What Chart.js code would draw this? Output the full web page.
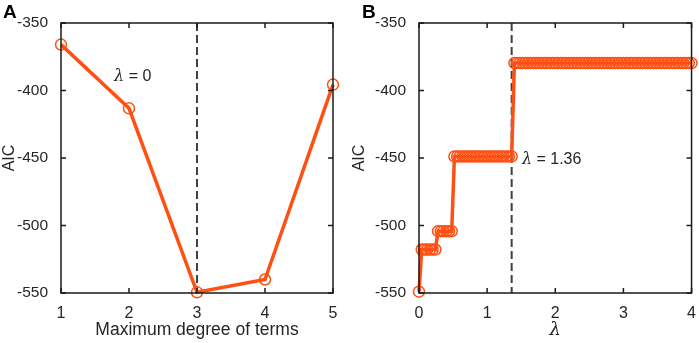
<!DOCTYPE html>
<html>
<head>
<meta charset="utf-8">
<script src="https://cdn.jsdelivr.net/npm/chart.js@4.4.0/dist/chart.umd.min.js"></script>
<style>
  html, body { margin: 0; padding: 0; background: #fff; }
  #wrap { position: relative; width: 699px; height: 343px; }
  .panel { position: absolute; top: 0; height: 343px; }
  #boxA { left: 0; width: 350px; }
  #boxB { left: 350px; width: 349px; }
</style>
</head>
<body>
<div id="wrap">
  <div class="panel" id="boxA"><canvas id="chartA"></canvas></div>
  <div class="panel" id="boxB"><canvas id="chartB"></canvas></div>
</div>
<script>
// panel A: AIC vs maximum degree of terms (lambda = 0)
const degrees = [1, 2, 3, 4, 5];
const aicA = [-366, -413.2, -549.5, -540, -395.6];

// panel B: AIC vs lambda (degree 3)
const lambdas = [
  0, 0.04, 0.08, 0.12, 0.16, 0.2, 0.24, 0.28, 0.32, 0.36, 0.4, 0.44, 0.48, 0.52, 0.56, 0.6, 0.64, 0.68, 0.72, 0.76,
  0.8, 0.84, 0.88, 0.92, 0.96, 1, 1.04, 1.08, 1.12, 1.16, 1.2, 1.24, 1.28, 1.32, 1.36, 1.4, 1.44, 1.48, 1.52, 1.56,
  1.6, 1.64, 1.68, 1.72, 1.76, 1.8, 1.84, 1.88, 1.92, 1.96, 2, 2.04, 2.08, 2.12, 2.16, 2.2, 2.24, 2.28, 2.32, 2.36,
  2.4, 2.44, 2.48, 2.52, 2.56, 2.6, 2.64, 2.68, 2.72, 2.76, 2.8, 2.84, 2.88, 2.92, 2.96, 3, 3.04, 3.08, 3.12, 3.16,
  3.2, 3.24, 3.28, 3.32, 3.36, 3.4, 3.44, 3.48, 3.52, 3.56, 3.6, 3.64, 3.68, 3.72, 3.76, 3.8, 3.84, 3.88, 3.92, 3.96, 4
];
const aicB = [
  -549, -517.8, -517.8, -517.8, -517.8, -517.8, -517.8, -504.2, -504.2, -504.2, -504.2, -504.2, -504.2,
  -448.8, -448.8, -448.8, -448.8, -448.8, -448.8, -448.8, -448.8, -448.8, -448.8, -448.8,
  -448.8, -448.8, -448.8, -448.8, -448.8, -448.8, -448.8, -448.8, -448.8, -448.8, -448.8,
  -379.7, -379.7, -379.7, -379.7, -379.7, -379.7, -379.7, -379.7, -379.7, -379.7, -379.7,
  -379.7, -379.7, -379.7, -379.7, -379.7, -379.7, -379.7, -379.7, -379.7, -379.7, -379.7,
  -379.7, -379.7, -379.7, -379.7, -379.7, -379.7, -379.7, -379.7, -379.7, -379.7, -379.7,
  -379.7, -379.7, -379.7, -379.7, -379.7, -379.7, -379.7, -379.7, -379.7, -379.7, -379.7,
  -379.7, -379.7, -379.7, -379.7, -379.7, -379.7, -379.7, -379.7, -379.7, -379.7, -379.7,
  -379.7, -379.7, -379.7, -379.7, -379.7, -379.7, -379.7, -379.7, -379.7, -379.7, -379.7
];

const yTicks = [-550, -500, -450, -400, -350];
const bestDegree = 3;
const bestLambda = 1.36;

const lineColor = "#ff5014";
const textColor = "#262626";
const fontFamily = "'Liberation Sans', Arial, sans-serif";

Chart.defaults.font.family = fontFamily;
Chart.defaults.color = textColor;

// box + inward ticks, dashed marker line, panel letter and note
const matlabAxes = {
  id: "matlabAxes",
  beforeDatasetsDraw(chart, args, opts) {
    const { ctx, chartArea: a, scales } = chart;
    const x = scales.x.getPixelForValue(opts.vline);
    ctx.save();
    ctx.strokeStyle = "#404040";
    ctx.lineWidth = 2;
    ctx.setLineDash([8, 4]);
    ctx.beginPath();
    ctx.moveTo(x, a.top);
    ctx.lineTo(x, a.bottom);
    ctx.stroke();
    ctx.restore();
  },
  afterDraw(chart, args, opts) {
    const { ctx, chartArea: a, scales } = chart;
    ctx.save();
    ctx.strokeStyle = "#1a1a1a";
    ctx.lineWidth = 1.5;
    ctx.strokeRect(a.left, a.top, a.right - a.left, a.bottom - a.top);
    const len = 5;
    ctx.beginPath();
    scales.x.ticks.forEach(t => {
      const px = scales.x.getPixelForValue(t.value);
      ctx.moveTo(px, a.bottom); ctx.lineTo(px, a.bottom - len);
      ctx.moveTo(px, a.top); ctx.lineTo(px, a.top + len);
    });
    scales.y.ticks.forEach(t => {
      const py = scales.y.getPixelForValue(t.value);
      ctx.moveTo(a.left, py); ctx.lineTo(a.left + len, py);
      ctx.moveTo(a.right, py); ctx.lineTo(a.right - len, py);
    });
    ctx.stroke();

    ctx.fillStyle = "#000";
    ctx.font = "bold 19px " + fontFamily;
    ctx.textBaseline = "top";
    ctx.fillText(opts.letter, opts.letterX, 3);

    // note with italic lambda
    const nx = scales.x.getPixelForValue(opts.noteX);
    const ny = scales.y.getPixelForValue(opts.noteY);
    ctx.fillStyle = textColor;
    ctx.textBaseline = "middle";
    ctx.font = "italic 16px 'DejaVu Serif', serif";
    ctx.fillText("λ", nx, ny);
    const w = ctx.measureText("λ").width;
    ctx.font = "16px " + fontFamily;
    ctx.fillText(opts.noteText, nx + w, ny);
    ctx.restore();
  }
};

function makeChart(id, xs, ys, cfg) {
  return new Chart(document.getElementById(id), {
    type: "line",
    data: {
      datasets: [{
        data: xs.map((x, i) => ({ x: x, y: ys[i] })),
        borderColor: lineColor,
        borderWidth: 3.5,
        pointStyle: "circle",
        pointRadius: 5.5,
        pointBorderWidth: 1.5,
        pointBorderColor: lineColor,
        pointBackgroundColor: "rgba(255,255,255,0)",
        tension: 0,
        clip: false
      }]
    },
    options: {
      responsive: true,
      maintainAspectRatio: false,
      animation: false,
      layout: { padding: { top: 23, right: cfg.padRight, left: 0, bottom: 0 } },
      plugins: {
        legend: { display: false },
        tooltip: { enabled: false },
        matlabAxes: cfg.extras
      },
      scales: {
        x: {
          type: "linear",
          min: cfg.xMin,
          max: cfg.xMax,
          grid: { display: false },
          border: { display: false },
          ticks: { stepSize: 1, font: { size: 16 }, color: textColor, padding: 3 },
          title: {
            display: true,
            text: cfg.xTitle,
            font: cfg.xTitleFont,
            color: textColor,
            padding: { top: 0, bottom: 2 }
          },
          afterFit(scale) { scale.height = 50; }
        },
        y: {
          type: "linear",
          min: -550,
          max: -350,
          grid: { display: false },
          border: { display: false },
          afterBuildTicks(scale) { scale.ticks = yTicks.map(v => ({ value: v })); },
          ticks: { font: { size: 15.5 }, color: textColor, padding: 5 },
          title: {
            display: true,
            text: "AIC",
            font: { size: 16 },
            color: textColor,
            padding: { top: 0, bottom: 0 }
          },
          afterFit(scale) { scale.width = cfg.yWidth; }
        }
      }
    },
    plugins: [matlabAxes]
  });
}

makeChart("chartA", degrees, aicA, {
  xMin: 1, xMax: 5, padRight: 17, yWidth: 61,
  xTitle: "Maximum degree of terms",
  xTitleFont: { size: 17.5 },
  extras: { vline: bestDegree, letter: "A", letterX: 3, noteX: 1.78, noteY: -390, noteText: " = 0" }
});

makeChart("chartB", lambdas, aicB, {
  xMin: 0, xMax: 4, padRight: 7, yWidth: 69,
  xTitle: "λ",
  xTitleFont: { size: 18, style: "italic", family: "'DejaVu Serif', serif" },
  extras: { vline: bestLambda, letter: "B", letterX: 12, noteX: 1.51, noteY: -451, noteText: " = 1.36" }
});
</script>
</body>
</html>
